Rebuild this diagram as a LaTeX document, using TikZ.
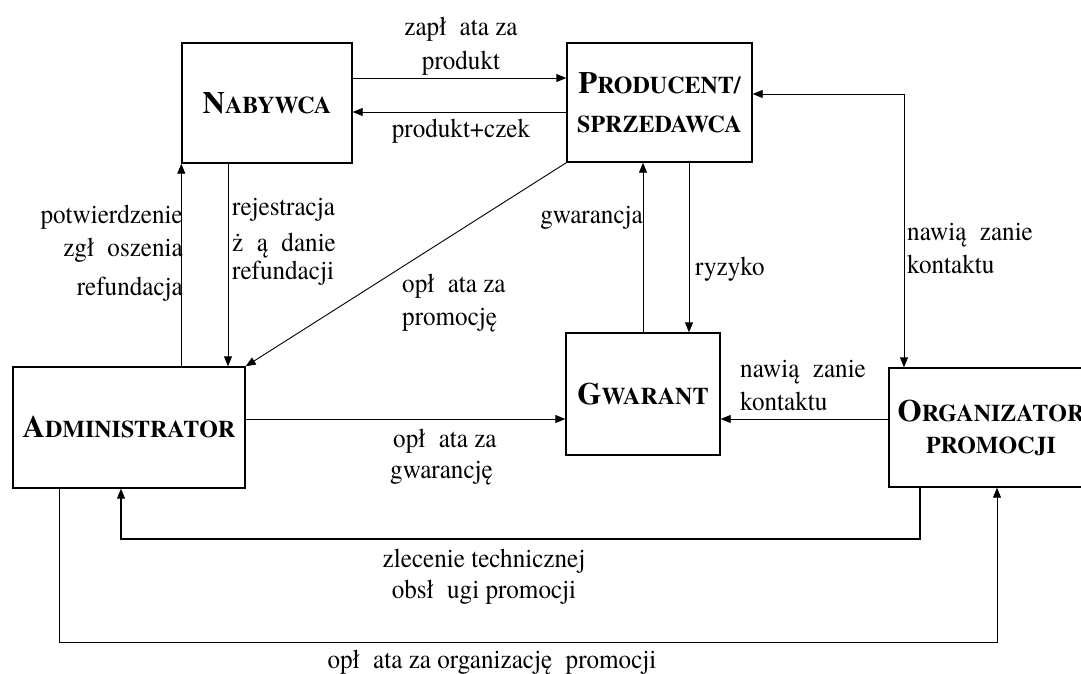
\documentclass[tikz,border=0pt]{standalone}
\usepackage{fontspec}
\setmainfont{texgyretermes-regular.otf}[BoldFont=texgyretermes-bold.otf]
\newfontfamily\lblfont{texgyretermes-regular.otf}[FakeStretch=0.93]
\usetikzlibrary{arrows.meta,calc}
\newcommand{\BigL}[1]{{\fontsize{31}{31}\selectfont #1}}
\newcommand{\gp}{\hspace{0.5em}}
\tikzset{
  box/.style={draw, line width=1.4pt, rectangle, inner sep=0pt, align=center,
    font=\rmfamily\bfseries\fontsize{24}{28}\selectfont},
  conn/.style={line width=0.9pt, -{Triangle[length=10pt,width=8pt]}},
  biconn/.style={line width=0.9pt, {Triangle[length=10pt,width=8pt]}-{Triangle[length=10pt,width=8pt]}},
  lbl/.style={inner sep=0pt, font=\lblfont\fontsize{27}{30}\selectfont},
}
\begin{document}
\begin{tikzpicture}[x=1pt,y=-1pt]
\useasboundingbox[fill=white] (0,0) rectangle (1081,673);

% boxes
\node[box, minimum width=170pt, minimum height=120pt] (nab) at (267,103) {\BigL{N}ABYWCA};
\node[box, minimum width=185pt, minimum height=119pt] (prod) at (659.5,102.5) {\BigL{P}RODUCENT/\\[11pt]SPRZEDAWCA};
\node[box, minimum width=232pt, minimum height=121pt] (adm) at (129,427.5) {\BigL{A}DMINISTRATOR};
\node[box, minimum width=154pt, minimum height=122pt] (gw) at (643,394) {\BigL{G}WARANT};
\node[box, minimum width=204pt, minimum height=119pt] (org) at (991,427.5) {\BigL{O}RGANIZATOR\\[4pt]PROMOCJI};

% connectors
\draw[conn] (nab.east |- 0,78) -- (prod.west |- 0,78);
\draw[conn] (prod.west |- 0,112) -- (nab.east |- 0,112);
\draw[conn] (nab.south west |- adm.north) -- (nab.south west);
\draw[conn] (nab.south -| 228,0) -- (adm.north -| 228,0);
\draw[conn] (prod.south west) -- (adm.north east);
\draw[conn] (gw.north) -- (prod.south -| gw.north);
\draw[conn] (prod.south -| 689,0) -- (gw.north -| 689,0);
\draw[biconn] (prod.east |- 0,94) -| (org.north -| 904,0);
\draw[conn] (org.west |- 0,419) -- (gw.east |- 0,419);
\draw[conn] (adm.east |- 0,419) -- (gw.west |- 0,419);
\coordinate (z1) at (920,539);
\draw[conn, line width=1.25pt] (org.south -| z1) -- (z1) -| (adm.south -| 121,0);
\coordinate (z2) at (59,642);
\draw[conn, line width=0.8pt] (adm.south -| z2) -- (z2) -| (org.south -| 997,0);

% labels
\node[lbl, anchor=base] (l1a) at (461,35) {zapł\gp ata za};
\node[lbl, anchor=base] (l1b) at (461,69) {produkt};
\node[lbl, anchor=base] (l2) at (461,137) {produkt+czek};
\node[lbl, anchor=base east] (l3a) at (183,223) {potwierdzenie};
\node[lbl, anchor=base east] (l3b) at (183,256) {zgł\gp oszenia};
\node[lbl, anchor=base east] (l4) at (183,295) {refundacja};
\node[lbl, anchor=base west] (l5a) at (232,215) {rejestracja};
\node[lbl, anchor=base west] (l5b) at (232,251) {ż\gp ą\gp danie};
\node[lbl, anchor=base west] (l5c) at (232,279) {refundacji};
\node[lbl, anchor=base east] (l6) at (643,223) {gwarancja};
\node[lbl, anchor=base west] (l7) at (695,275) {ryzyko};
\node[lbl, anchor=base west] (l8a) at (402,292) {opł\gp ata za};
\node[lbl, anchor=base west] (l8b) at (402,325) {promocję};
\node[lbl, anchor=base west] (l9a) at (907,240) {nawią\gp zanie};
\node[lbl, anchor=base west] (l9b) at (907,273) {kontaktu};
\node[lbl, anchor=base west] (l10a) at (740,377) {nawią\gp zanie};
\node[lbl, anchor=base west] (l10b) at (740,410) {kontaktu};
\node[lbl, anchor=base west] (l11a) at (393,447) {opł\gp ata za};
\node[lbl, anchor=base west] (l11b) at (390,478) {gwarancję};
\node[lbl, anchor=base] (l12a) at (484,567) {zlecenie technicznej};
\node[lbl, anchor=base] (l12b) at (484,598) {obsł\gp ugi promocji};
\node[lbl, anchor=base] (l13) at (492,668) {opł\gp ata za organizację\gp promocji};
\end{tikzpicture}
\end{document}
